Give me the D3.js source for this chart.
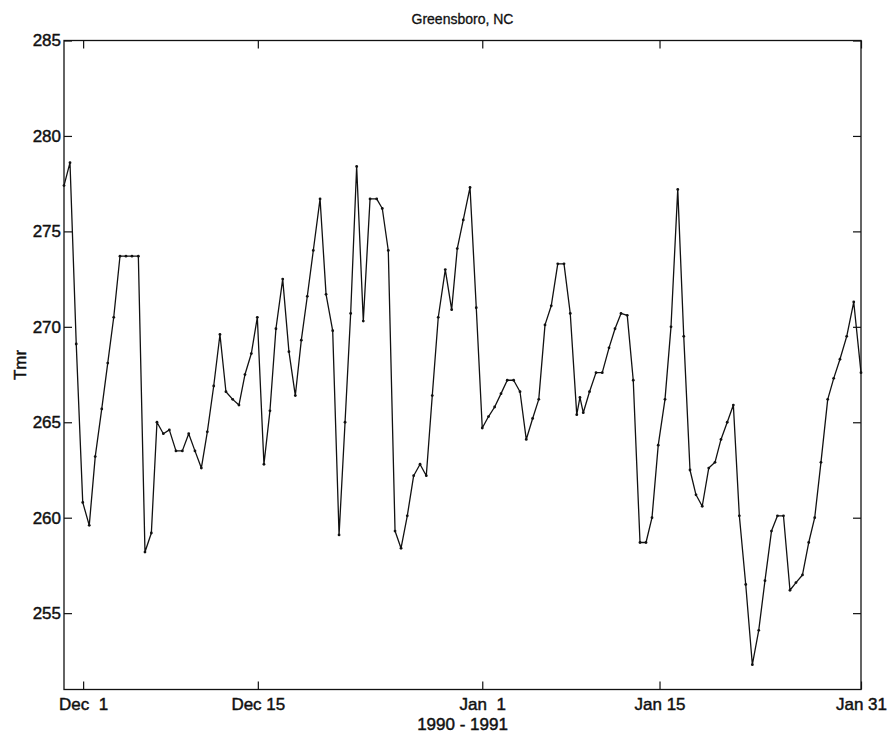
<!DOCTYPE html>
<html>
<head>
<meta charset="utf-8">
<script src="https://cdn.jsdelivr.net/npm/d3@7"></script>
<style>
body { margin: 0; background: #fff; }
text { font-family: "Liberation Sans", Arial, Helvetica, sans-serif; fill: #111; stroke: #111; stroke-width: 0.45px; }
.axis text { font-size: 17px; white-space: pre; }
.axis path { display: none; }
.axis line { stroke: #111; stroke-width: 1.2; }
</style>
</head>
<body>
<svg width="889" height="733"></svg>
<script>
const days = [
  -1.50, -1.03, -0.54, -0.03, 0.48, 0.95, 1.46, 1.93, 2.40, 2.89,
  3.36, 3.83, 4.33, 4.85, 5.35, 5.79, 6.29, 6.76, 7.28, 7.78,
  8.28, 8.77, 9.27, 9.74, 10.24, 10.73, 11.20, 11.73, 12.22, 12.69,
  13.19, 13.66, 14.18, 14.65, 15.12, 15.65, 16.14, 16.64, 17.11, 17.58,
  18.05, 18.58, 19.05, 19.57, 20.07, 20.54, 20.98, 21.45, 21.97, 22.50,
  23.02, 23.46, 23.93, 24.46, 24.93, 25.42, 25.92, 26.42, 26.91, 27.38,
  27.85, 28.40, 28.90, 29.34, 29.81, 30.34, 30.83, 31.30, 31.79, 32.27,
  32.77, 33.26, 33.76, 34.26, 34.75, 35.25, 35.73, 36.22, 36.71, 37.22,
  37.71, 38.20, 38.71, 38.96, 39.22, 39.71, 40.22, 40.71, 41.24, 41.71,
  42.18, 42.67, 43.14, 43.67, 44.14, 44.61, 45.10, 45.63, 46.10, 46.63,
  47.10, 47.59, 48.06, 48.55, 49.06, 49.55, 50.02, 50.51, 50.99, 51.46,
  51.96, 52.48, 52.98, 53.47, 53.98, 54.45, 54.92, 55.43, 55.90, 56.41,
  56.90, 57.37, 57.86, 58.39, 58.86, 59.35, 59.88, 60.43, 61.00
]
// mean radiating temperature Tmr (K)
const tmr = [
  277.4, 278.6, 269.1, 260.8, 259.6, 263.2, 265.7, 268.1, 270.5, 273.7,
  273.7, 273.7, 273.7, 258.2, 259.2, 265.0, 264.4, 264.6, 263.5, 263.5,
  264.4, 263.5, 262.6, 264.5, 266.9, 269.6, 266.6, 266.2, 265.9, 267.5,
  268.6, 270.5, 262.8, 265.6, 269.9, 272.5, 268.7, 266.4, 269.3, 271.6,
  274.0, 276.7, 271.7, 269.8, 259.1, 265.0, 270.7, 278.4, 270.3, 276.7,
  276.7, 276.2, 274.0, 259.3, 258.4, 260.1, 262.2, 262.8, 262.2, 266.4,
  270.5, 273.0, 270.9, 274.1, 275.6, 277.3, 271.0, 264.7, 265.3, 265.8,
  266.5, 267.2, 267.2, 266.6, 264.1, 265.2, 266.2, 270.1, 271.1, 273.3,
  273.3, 270.7, 265.4, 266.3, 265.5, 266.6, 267.6, 267.6, 268.9, 269.9,
  270.7, 270.6, 267.2, 258.7, 258.7, 260.0, 263.8, 266.2, 270.0, 277.2,
  269.5, 262.5, 261.2, 260.6, 262.6, 262.9, 264.1, 265.0, 265.9, 260.1,
  256.5, 252.3, 254.1, 256.7, 259.3, 260.1, 260.1, 256.2, 256.6, 257.0,
  258.7, 260.0, 262.9, 266.2, 267.3, 268.3, 269.5, 271.3, 267.6
]
// tick positions as they sit in the picture (same day scale)
const xTickDays = [0, 13.7, 31.3, 45.2, 61]
const xTickLabels = ["Dec  1", "Dec 15", "Jan  1", "Jan 15", "Jan 31"]
const yTicks = [255, 260, 265, 270, 275, 280, 285]

const plot = { left: 64, right: 861, top: 40.5, bottom: 689.5 }

const x = d3.scaleLinear().domain([-1.5, 61]).range([plot.left, plot.right])
const y = d3.scaleLinear().domain([251, 285]).range([plot.bottom, plot.top])

const svg = d3.select("svg")
const data = days.map(function (d, i) { return { t: d, v: tmr[i] } })

// axes, ticks pointing into the box
svg.append("g")
  .attr("class", "axis x")
  .attr("transform", "translate(0," + plot.bottom + ")")
  .call(d3.axisBottom(x).tickValues(xTickDays)
    .tickFormat(function (d, i) { return xTickLabels[i] })
    .tickSize(-8).tickPadding(8))
svg.append("g")
  .attr("class", "axis x2")
  .attr("transform", "translate(0," + plot.top + ")")
  .call(d3.axisTop(x).tickValues(xTickDays).tickFormat("").tickSize(-8))
svg.append("g")
  .attr("class", "axis y")
  .attr("transform", "translate(" + plot.left + ",0)")
  .call(d3.axisLeft(y).tickValues(yTicks).tickSize(-8).tickPadding(3))
svg.append("g")
  .attr("class", "axis y2")
  .attr("transform", "translate(" + plot.right + ",0)")
  .call(d3.axisRight(y).tickValues(yTicks).tickFormat("").tickSize(-8))

svg.append("rect")
  .attr("x", plot.left).attr("y", plot.top)
  .attr("width", plot.right - plot.left)
  .attr("height", plot.bottom - plot.top)
  .attr("fill", "none")
  .attr("stroke", "#111")
  .attr("stroke-width", 1.3)

const line = d3.line()
  .x(function (d) { return x(d.t) })
  .y(function (d) { return y(d.v) })

svg.append("path")
  .datum(data)
  .attr("d", line)
  .attr("fill", "none")
  .attr("stroke", "#111")
  .attr("stroke-width", 1.3)
  .attr("stroke-linejoin", "round")

svg.append("g")
  .selectAll("circle")
  .data(data)
  .enter()
  .append("circle")
  .attr("cx", function (d) { return x(d.t) })
  .attr("cy", function (d) { return y(d.v) })
  .attr("r", 1.4)
  .attr("fill", "#111")

// labels
svg.append("text")
  .attr("x", (plot.left + plot.right) / 2)
  .attr("y", 24)
  .attr("text-anchor", "middle")
  .style("font-size", "14px")
  .style("stroke-width", "0.3px")
  .text("Greensboro, NC")

svg.append("text")
  .attr("x", (plot.left + plot.right) / 2)
  .attr("y", 729.5)
  .attr("text-anchor", "middle")
  .style("font-size", "17px")
  .text("1990 - 1991")

svg.append("text")
  .attr("transform", "translate(26," + ((plot.top + plot.bottom) / 2) + ") rotate(-90)")
  .attr("text-anchor", "middle")
  .style("font-size", "17px")
  .text("Tmr")
</script>
</body>
</html>
